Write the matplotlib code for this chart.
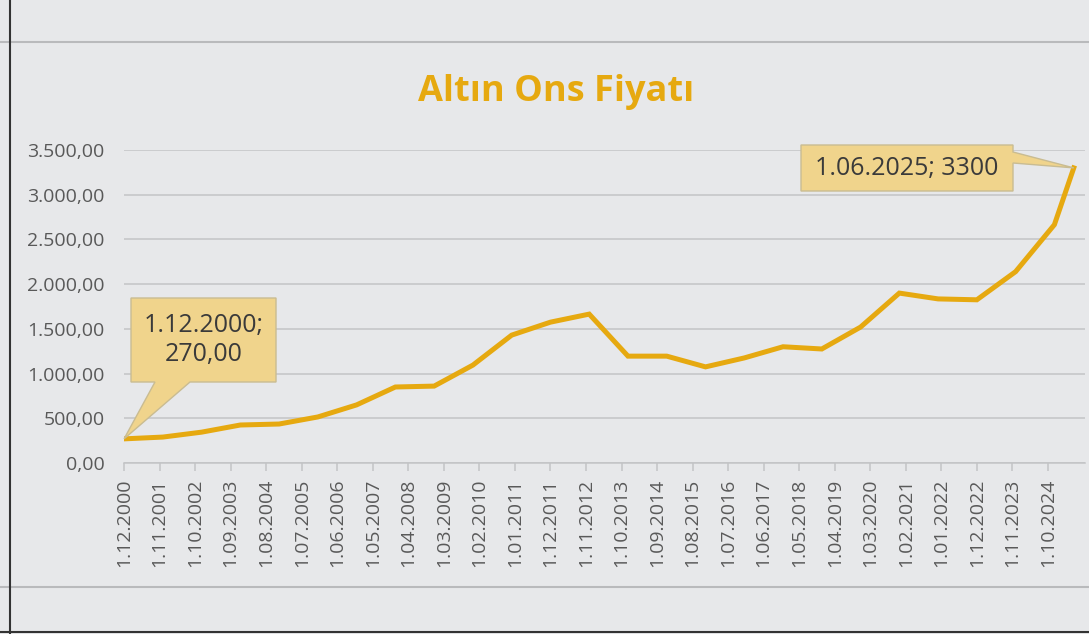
import matplotlib.pyplot as plt
from matplotlib.lines import Line2D
from matplotlib.patches import Polygon
from matplotlib.ticker import FuncFormatter

# yearly readings (December of each year) plus the last point, June 2025
dates = ['1.12.2000', '1.12.2001', '1.12.2002', '1.12.2003', '1.12.2004',
         '1.12.2005', '1.12.2006', '1.12.2007', '1.12.2008', '1.12.2009',
         '1.12.2010', '1.12.2011', '1.12.2012', '1.12.2013', '1.12.2014',
         '1.12.2015', '1.12.2016', '1.12.2017', '1.12.2018', '1.12.2019',
         '1.12.2020', '1.12.2021', '1.12.2022', '1.12.2023', '1.12.2024',
         '1.06.2025']
prices = [270, 290, 345, 425, 436, 515, 650, 850, 860, 1095,
          1430, 1575, 1665, 1195, 1195, 1075, 1175, 1300, 1275, 1520,
          1900, 1835, 1825, 2140, 2665, 3300]
yticks = [0, 500, 1000, 1500, 2000, 2500, 3000, 3500]
title = 'Altın Ons Fiyatı'
label_first = '1.12.2000;\n270,00'
label_last = '1.06.2025; 3300'

GOLD = '#e6a910'
BG = '#e7e8ea'
TXT = '#595959'
CALL_FC = '#f0d48c'
CALL_EC = '#c9bc92'
H = 634

plt.rcParams['font.family'] = ['Open Sans', 'DejaVu Sans']


def month_index(d):
    _, m, y = d.split('.')
    return (int(y) - 2000) * 12 + int(m) - 12


def tick_label(i, pos=None):
    i = int(round(i))
    m = (12 + i - 1) % 12 + 1
    y = 2000 + (11 + i) // 12
    return '1.%02d.%d' % (m, y)


def tr_num(v, pos=None):
    s = '{:,.2f}'.format(v)
    return s.replace(',', 'X').replace('.', ',').replace('X', '.')


x = [month_index(d) for d in dates]

fig = plt.figure(figsize=(10.89, 6.34), dpi=100, facecolor=BG)
ax = fig.add_axes([0.1139, 0.2697, 0.8825, 0.4937])
ax.set_facecolor(BG)

ax.plot(x, prices, color=GOLD, lw=3.6, solid_joinstyle='miter', zorder=3)

ax.set_ylim(0, 3500)
ax.set_xlim(0, 297.5)
ax.set_yticks(yticks)
ax.yaxis.set_major_formatter(FuncFormatter(tr_num))
xt = list(range(0, 295, 11))
ax.set_xticks(xt)
ax.set_xticklabels([tick_label(i) for i in xt], rotation=90)
ax.grid(axis='y', color='#c3c4c6', lw=1.1)
ax.set_axisbelow(True)
for s in ['top', 'right', 'left']:
    ax.spines[s].set_visible(False)
ax.spines['bottom'].set_color('#c3c4c6')
ax.spines['bottom'].set_linewidth(1.1)
ax.tick_params(axis='y', length=0, pad=14, labelsize=14, labelcolor=TXT)
ax.tick_params(axis='x', length=6, color='#c3c4c6', width=1.1,
               pad=5, labelsize=14, labelcolor=TXT)

fig.text(0.511, 0.855, title, ha='center', va='center', fontsize=26,
         fontweight='bold', color=GOLD)


def callout(pt, box, base, text, side):
    # box = (left, top, right, bottom) in image pixels, base = pointer base span
    tx, ty = ax.transData.transform(pt)
    l, t, r, b = [v if i % 2 == 0 else H - v for i, v in enumerate(box)]
    if side == 'bottom':
        verts = [(l, t), (r, t), (r, b), (base[1], b), (tx, ty),
                 (base[0], b), (l, b)]
    else:
        verts = [(l, t), (r, t), (r, H - base[0]), (tx, ty),
                 (r, H - base[1]), (r, b), (l, b)]
    fig.add_artist(Polygon(verts, closed=True, transform=None, fc=CALL_FC,
                           ec=CALL_EC, lw=1, zorder=5))
    fig.text((l + r) / 2 / 1089, (t + b) / 2 / H, text, ha='center',
             va='center', fontsize=18, color='#3a3a3a', linespacing=1.2,
             zorder=6)


callout((x[0], prices[0]), (131, 298, 276, 382), (155, 190), label_first,
        'bottom')
callout((x[-1], prices[-1]), (801, 145, 1013, 191), (152, 163), label_last,
        'right')

# frame lines of the chart area
fig.add_artist(Line2D([0, 1], [1 - 42 / H, 1 - 42 / H],
                      transform=fig.transFigure, color='#b9babc', lw=1.5))
fig.add_artist(Line2D([0, 1], [1 - 587 / H, 1 - 587 / H],
                      transform=fig.transFigure, color='#b9babc', lw=1.5))
fig.add_artist(Line2D([10 / 1089, 10 / 1089], [0, 1],
                      transform=fig.transFigure, color='#333333', lw=1.5))
fig.add_artist(Line2D([0, 1], [2.5 / H, 2.5 / H],
                      transform=fig.transFigure, color='#333333', lw=1.5))

fig.savefig('out.png', dpi=100, facecolor=BG)
